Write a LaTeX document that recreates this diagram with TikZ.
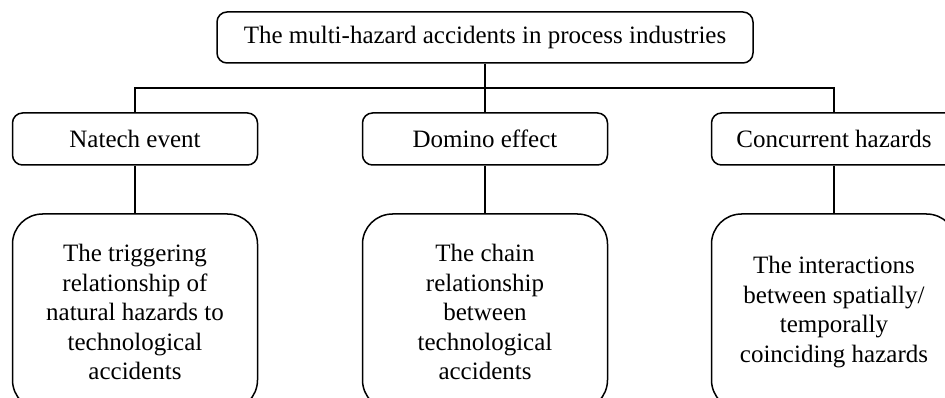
\documentclass[tikz,border=0pt]{standalone}
\usepackage{fontspec}
\setmainfont{Liberation Serif}

\begin{document}
\begin{tikzpicture}[x=1pt, y=1pt,
    every node/.style={align=center, font=\fontsize{25}{29.5}\selectfont},
    headbox/.style={draw, line width=1.5pt, rounded corners=10pt, minimum width=536pt, minimum height=51pt},
    typebox/.style={draw, line width=1.5pt, rounded corners=10pt, minimum width=245pt, minimum height=52pt},
    descbox/.style={draw, line width=1.5pt, rounded corners=30pt, minimum width=245pt, minimum height=196pt},
    link/.style={line width=1.5pt}
  ]
  \useasboundingbox (0,0) rectangle (945,-398);
  \clip (0,0) rectangle (945,-398);

  % Top box
  \node[headbox] (top) at (485,-37.5) {The multi-hazard accidents in process industries};

  % Three kinds
  \node[typebox] (natech) at (135,-139) {Natech event};
  \node[typebox] (domino) at (485,-139) {Domino effect};
  \node[typebox] (concur) at (834,-139) {Concurrent hazards};

  % Descriptions
  \node[descbox] (natechdesc) at (135,-312) {The triggering\\ relationship of\\ natural hazards to\\ technological\\ accidents};
  \node[descbox] (dominodesc) at (485,-312) {The chain\\ relationship\\ between\\ technological\\ accidents};
  \node[descbox] (concurdesc) at (834,-312) {The interactions\\ between spatially/\\ temporally\\ coinciding hazards};

  % Lines
  \coordinate (bus) at (485,-88);
  \draw[link] (top.south) -- (top.south |- bus) -| (natech.north);
  \draw[link] (top.south |- bus) -| (concur.north);
  \draw[link] (top.south) -- (domino.north);
  \draw[link] (natech) -- (natechdesc);
  \draw[link] (domino) -- (dominodesc);
  \draw[link] (concur) -- (concurdesc);
\end{tikzpicture}
\end{document}
